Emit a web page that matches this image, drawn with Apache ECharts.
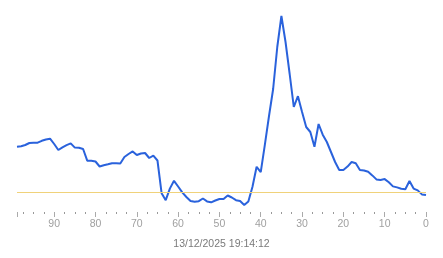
<!DOCTYPE html>
<html>
<head>
<meta charset="utf-8">
<script src="https://cdn.jsdelivr.net/npm/echarts@6/dist/echarts.min.js"></script>
<style>
html,body{margin:0;padding:0;background:#fff;}
#c{width:443px;height:258px;}
</style>
</head>
<body>
<div id="c"></div>
<script>
// x positions (counting down to 0 at the right)
var xValues = [99,98,97,96,95,94,93,92,91,90,89,88,87,86,85,84,83,82,81,80,
  79,78,77,76,75,74,73,72,71,70,69,68,67,66,65,64,63,62,61,60,
  59,58,57,56,55,54,53,52,51,50,49,48,47,46,45,44,43,42,41,40,
  39,38,37,36,35,34,33,32,31,30,29,28,27,26,25,24,23,22,21,20,
  19,18,17,16,15,14,13,12,11,10,9,8,7,6,5,4,3,2,1,0];
var seriesValues = [45.3,45.8,47,49,49.3,49.3,51.2,52.5,53.3,48,42,44.7,46.9,48.6,44.4,44.3,43,31.3,31.2,30.5,
  25.5,26.8,27.7,28.8,28.8,28.5,35,38,40.6,37,38.5,39,34,36.3,31.5,-1.2,-8.2,3.4,11.2,5.5,
  -0.3,-5,-9,-9.7,-9.2,-6.5,-9.4,-10.3,-8.5,-7,-7,-3.5,-5.5,-8.2,-9,-13,-9.4,5.2,25.2,19.8,
  47.4,76,103,145,176,150,118,85,95.8,80,65,60,45.3,68,57.3,50,40,30,22,22,
  25.4,30,28.8,22,21.5,20.2,16.6,12.6,12,12.9,9.7,5.6,4.6,3.2,2.7,11,3.4,1.6,-2.4,-3];
var referenceLevel = 0;
var xTickLabels = ['0','10','20','30','40','50','60','70','80','90'];
var titleText = '13/12/2025 19:14:12';

var pts = xValues.map(function(x,i){ return [x, seriesValues[i]]; });

var chart = echarts.init(document.getElementById('c'), null, {renderer:'canvas'});
chart.setOption({
  animation:false,
  backgroundColor:'#ffffff',
  title:{
    text:titleText,
    left:'center',
    top:234,
    textStyle:{fontSize:10.5,fontWeight:'normal',color:'#7a7a7a',fontFamily:'Liberation Sans, Arial, sans-serif'}
  },
  grid:{left:17,right:17,top:2,bottom:46},
  xAxis:{
    type:'value',
    inverse:true,
    min:0,max:99,interval:10,
    axisLine:{show:false,onZero:false},
    axisTick:{show:true,length:5,lineStyle:{color:'#aaaaaa',width:1}},
    minorTick:{show:true,splitNumber:4,length:2,lineStyle:{color:'#999999',width:1}},
    splitLine:{show:false},
    axisLabel:{
      margin:7,
      color:'#a0a0a0',
      fontSize:10.5,
      fontFamily:'Liberation Sans, Arial, sans-serif',
      formatter:function(v){ var s=String(v); return xTickLabels.indexOf(s)>=0?s:''; }
    }
  },
  yAxis:{
    type:'value',
    min:-20,max:190,
    show:false
  },
  series:[{
    type:'line',
    data:pts,
    showSymbol:false,
    symbol:'none',
    lineStyle:{color:'#2a62dc',width:2},
    markLine:{
      silent:true,
      symbol:['none','none'],
      label:{show:false},
      lineStyle:{color:'#f0d27a',width:1,type:'solid'},
      data:[{yAxis:referenceLevel}]
    },
    z:3
  }]
});
</script>
</body>
</html>
